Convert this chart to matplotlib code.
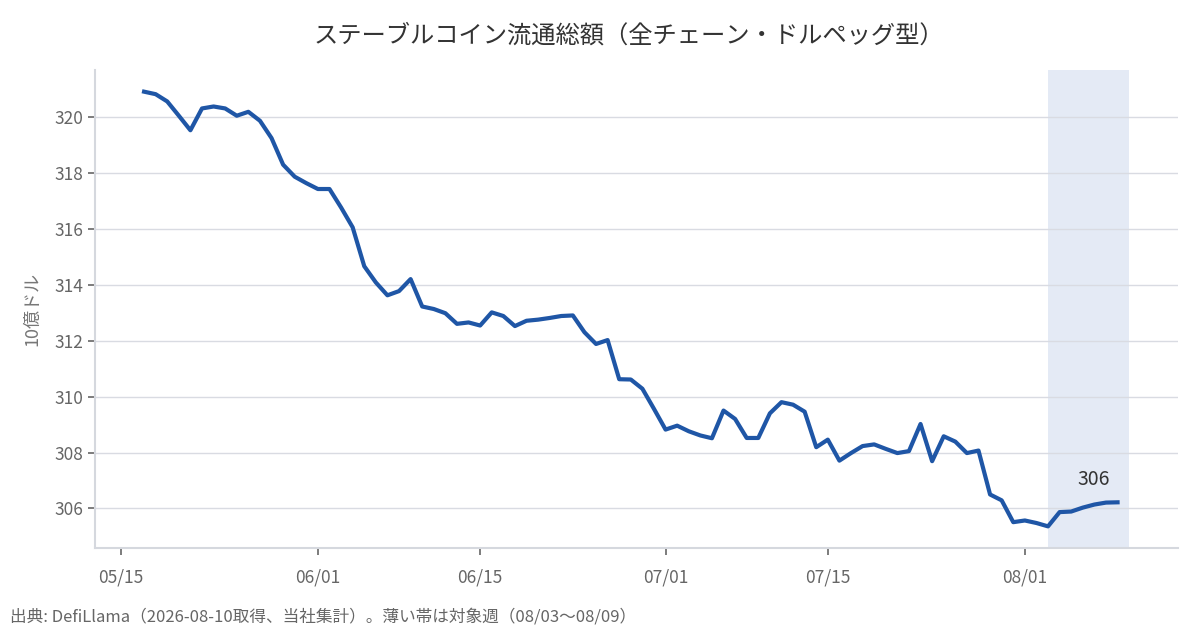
import matplotlib
matplotlib.use("Agg")
import matplotlib.pyplot as plt
import matplotlib.dates as mdates
import pandas as pd

plt.rcParams["font.family"] = ["Noto Sans CJK JP", "DejaVu Sans"]

# daily totals, 05/17 .. 08/09 (billion USD)
dates = pd.date_range("2026-05-17", "2026-08-09", freq="D")
values = [
    320.90, 320.81, 320.55, 320.04, 319.52, 320.30, 320.37, 320.30, 320.04, 320.18,
    319.86, 319.24, 318.29, 317.86, 317.63, 317.42, 317.42, 316.76, 316.05, 314.66,
    314.08, 313.62, 313.77, 314.20, 313.22, 313.13, 312.98, 312.60, 312.65, 312.54,
    313.01, 312.88, 312.52, 312.71, 312.75, 312.81, 312.88, 312.90, 312.30, 311.88,
    312.02, 310.62, 310.61, 310.28, 309.56, 308.82, 308.96, 308.76, 308.61, 308.51,
    309.50, 309.20, 308.52, 308.52, 309.40, 309.80, 309.71, 309.46, 308.19, 308.46,
    307.71, 307.98, 308.23, 308.29, 308.13, 307.98, 308.05, 309.02, 307.69, 308.58,
    308.39, 307.98, 308.07, 306.50, 306.29, 305.51, 305.57, 305.48, 305.36, 305.87,
    305.89, 306.03, 306.14, 306.21, 306.22,
]
week_start = pd.Timestamp("2026-08-03")
week_end = pd.Timestamp("2026-08-10")
xtick_dates = pd.to_datetime(["2026-05-15", "2026-06-01", "2026-06-15",
                              "2026-07-01", "2026-07-15", "2026-08-01"])
yticks = [306, 308, 310, 312, 314, 316, 318, 320]

title = "ステーブルコイン流通総額（全チェーン・ドルペッグ型）"
ylabel = "10億ドル"
note = "出典: DefiLlama（2026-08-10取得、当社集計）。薄い帯は対象週（08/03〜08/09）"

fig = plt.figure(figsize=(12, 6.3), dpi=100)
ax = fig.add_axes([0.079, 0.130, 0.903, 0.759])

ax.axvspan(week_start, week_end, color="#e4eaf5", zorder=0, lw=0)
ax.plot(dates, values, color="#1f56a6", lw=3, zorder=3, solid_joinstyle="round")

ax.annotate(f"{values[-1]:.0f}", (dates[-1], values[-1]), xytext=(-17, 9),
            textcoords="offset points", ha="center", va="bottom",
            fontsize=14, color="#333333")

ax.set_yticks(yticks)
ax.set_xticks(xtick_dates)
ax.xaxis.set_major_formatter(mdates.DateFormatter("%m/%d"))
ax.grid(axis="y", color="#d9dbe2", lw=1)
ax.set_axisbelow(True)

for side in ("top", "right"):
    ax.spines[side].set_visible(False)
for side in ("left", "bottom"):
    ax.spines[side].set_color("#d5d8de")
    ax.spines[side].set_linewidth(1.5)

ax.tick_params(colors="#666666", labelsize=12.5, length=5, width=1.2)
ax.tick_params(axis="x", pad=10)
ax.set_ylabel(ylabel, color="#777777", fontsize=13, labelpad=9)

fig.text(0.524, 0.943, title, ha="center", va="center", fontsize=17.5, color="#333333")
fig.text(0.008, 0.021, note, ha="left", va="center", fontsize=12, color="#666666")

fig.savefig("out.png", dpi=100)
